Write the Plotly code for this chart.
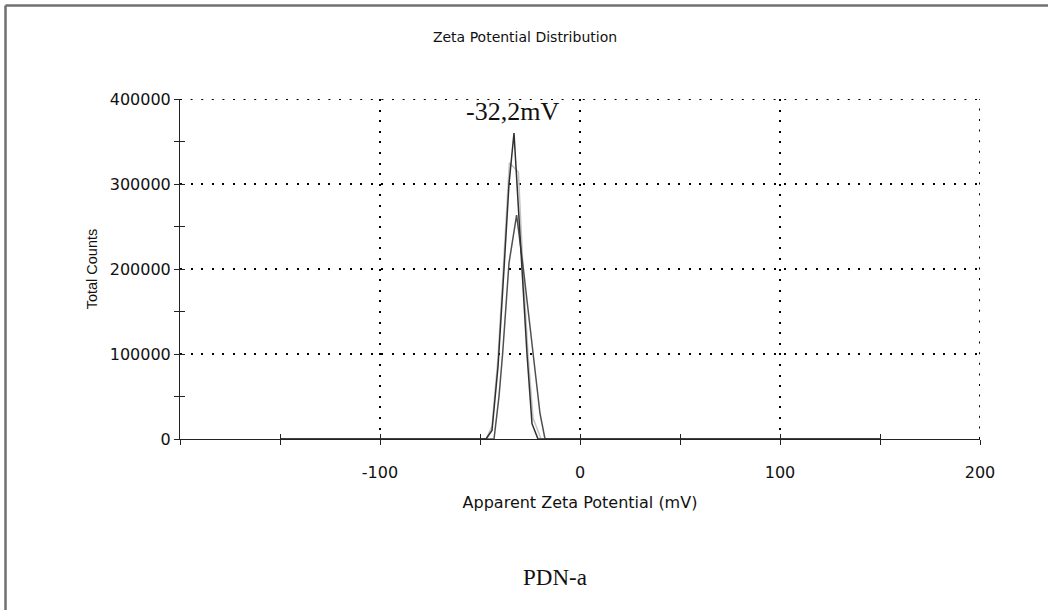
import plotly.graph_objects as go

# ---- data ----
zeta_run1 = [-150, -47, -44, -41, -38, -35.5, -33, -31.5, -29, -26.5, -24, -21, 150]
counts_run1 = [0, 0, 10000, 85000, 200000, 300000, 360000, 300000, 200000, 100000, 18000, 0, 0]

zeta_run2 = [-150, -47, -44, -41, -38, -35.3, -30.8, -28.5, -26, -23.5, -19.5, 150]
counts_run2 = [0, 0, 15000, 95000, 215000, 325000, 314000, 200000, 100000, 25000, 0, 0]

zeta_run3 = [-150, -43, -40.5, -38.7, -35.5, -31.7, -28.3, -23.5, -20, -17.5, 150]
counts_run3 = [0, 0, 50000, 100000, 207000, 263500, 200000, 100000, 30000, 0, 0]

x_tickvals = [-100, 0, 100, 200]
x_ticktext = ["-100", "0", "100", "200"]
y_tickvals = [0, 100000, 200000, 300000, 400000]
y_ticktext = ["0", "100000", "200000", "300000", "400000"]

peak_label = "-32,2mV"
peak_x = -34
peak_y = 385000
sample_name = "PDN-a"

# ---- figure ----
W, H = 1048, 610
L, R, T, B = 180, 68, 99, 171
pw, ph = W - L - R, H - T - B

fig = go.Figure()
for xs, ys, c in zip([zeta_run2, zeta_run3, zeta_run1],
                     [counts_run2, counts_run3, counts_run1],
                     ["#c4c4c4", "#505050", "#303030"]):
    fig.add_trace(go.Scatter(x=xs, y=ys, mode="lines",
                             line=dict(color=c, width=1.5), showlegend=False,
                             cliponaxis=False))

axis_font = dict(family="DejaVu Sans", size=16, color="#111")
dotgrid = "2px,8.6px"

fig.update_layout(
    width=W, height=H,
    margin=dict(l=L, r=R, t=T, b=B, pad=0),
    paper_bgcolor="white", plot_bgcolor="white",
    title=dict(text="Zeta Potential Distribution", x=525 / W, xanchor="center",
               y=1 - 37 / H, yanchor="middle", yref="container",
               font=dict(family="DejaVu Sans", size=14, color="#111")),
    xaxis=dict(range=[-200, 200], tickvals=x_tickvals, ticktext=x_ticktext,
               showline=True, linecolor="#222", linewidth=1,
               ticks="outside", ticklen=5, tickcolor="#222", tickwidth=1,
               minor=dict(dtick=50, tick0=0, ticks="outside", ticklen=5,
                          tickcolor="#222", showgrid=False),
               ticklabelstandoff=14,
               showgrid=True, gridcolor="#000", gridwidth=2, griddash=dotgrid,
               zeroline=False, tickfont=axis_font,
               title=dict(text="Apparent Zeta Potential (mV)",
                          font=dict(family="DejaVu Sans", size=16, color="#111"),
                          standoff=15)),
    yaxis=dict(range=[0, 400000], tickvals=y_tickvals, ticktext=y_ticktext,
               showline=True, linecolor="#222", linewidth=1,
               ticks="outside", ticklen=5, tickcolor="#222", tickwidth=1,
               minor=dict(dtick=50000, tick0=0, ticks="outside", ticklen=5,
                          tickcolor="#222", showgrid=False),
               showgrid=True, gridcolor="#000", gridwidth=2, griddash=dotgrid,
               zeroline=False, tickfont=axis_font,
               title=dict(text="Total Counts",
                          font=dict(family="Liberation Sans", size=14.5, color="#111"),
                          standoff=8)),
    # overlay axes to draw the inner half of the crossing ticks
    xaxis2=dict(range=[-200, 200], overlaying="x", anchor="y", side="bottom",
                tickvals=x_tickvals, showticklabels=False, ticks="inside",
                ticklen=5, tickcolor="#222",
                minor=dict(dtick=50, tick0=0, ticks="inside", ticklen=5,
                           tickcolor="#222", showgrid=False),
                showgrid=False, zeroline=False, showline=False),
    yaxis2=dict(range=[0, 400000], overlaying="y", anchor="x", side="left",
                tickvals=y_tickvals, showticklabels=False, ticks="inside",
                ticklen=5, tickcolor="#222",
                minor=dict(dtick=50000, tick0=0, ticks="inside", ticklen=5,
                           tickcolor="#222", showgrid=False),
                showgrid=False, zeroline=False, showline=False),
)

# dummy invisible trace to activate overlay axes
fig.add_trace(go.Scatter(x=[None], y=[None], xaxis="x2", yaxis="y2",
                         showlegend=False, hoverinfo="skip"))

# dotted grid lines on the top and right edges (plotly drops edge gridlines)
fig.add_shape(type="line", xref="x", yref="y", x0=-200, x1=x_tickvals[-1],
              y0=y_tickvals[-1], y1=y_tickvals[-1], layer="below",
              line=dict(color="#000", width=2, dash=dotgrid))
fig.add_shape(type="line", xref="x", yref="y", x0=x_tickvals[-1], x1=x_tickvals[-1],
              y0=0, y1=y_tickvals[-1], layer="below",
              line=dict(color="#000", width=2, dash=dotgrid))

fig.add_annotation(x=peak_x, y=peak_y, xref="x", yref="y", text=peak_label,
                   showarrow=False, xanchor="center", yanchor="middle",
                   font=dict(family="Liberation Serif", size=26, color="#111"))
fig.add_annotation(x=(555 - L) / pw, y=(H - B - 577) / ph, xref="paper", yref="paper",
                   text=sample_name, showarrow=False, xanchor="center", yanchor="middle",
                   font=dict(family="Liberation Serif", size=23, color="#111"))

# outer frame (top and left edges of the picture)
top_y = (H - B - 5.5) / ph
left_x = (5.5 - L) / pw
fig.add_shape(type="line", xref="paper", yref="paper", x0=left_x, x1=(W - L) / pw,
              y0=top_y, y1=top_y, line=dict(color="#707070", width=2.5))
fig.add_shape(type="line", xref="paper", yref="paper", x0=left_x, x1=left_x,
              y0=top_y, y1=-(B) / ph, line=dict(color="#707070", width=2.5))

fig.write_html("out.html")
